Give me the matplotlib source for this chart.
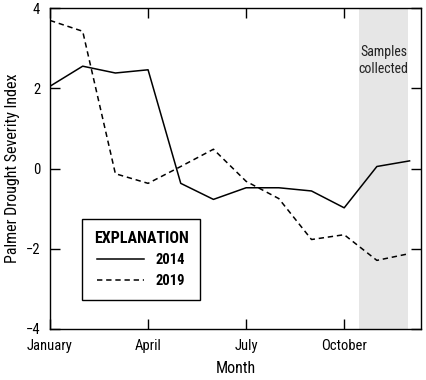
import matplotlib
matplotlib.use("Agg")
import matplotlib.pyplot as plt
from matplotlib import font_manager

months = list(range(12))
pdsi_2014 = [2.05, 2.55, 2.38, 2.46, -0.37, -0.77, -0.48, -0.48, -0.56, -0.98, 0.05, 0.19]
pdsi_2019 = [3.69, 3.42, -0.13, -0.37, 0.05, 0.48, -0.32, -0.75, -1.77, -1.65, -2.29, -2.12]
xtick_pos = [0, 3, 6, 9]
xtick_labels = ["January", "April", "July", "October"]
ytick_pos = [-4, -2, 0, 2, 4]
ytick_labels = ["\u22124", "\u22122", "0", "2", "4"]
shade_start, shade_end = 9.45, 10.95

# prefer a condensed sans family if one is installed
cands = []
for f in font_manager.fontManager.ttflist:
    st = str(f.stretch).lower()
    if ("narrow" in f.name.lower() or "condensed" in f.name.lower() or
            st in ("condensed", "semi-condensed", "extra-condensed", "600", "700", "750", "500")):
        cands.append((f.name, st))
chosen = None
for pref in ["Liberation Sans Narrow", "Roboto Condensed", "Open Sans Condensed", "DejaVu Sans Condensed", "Noto Sans Condensed"]:
    if any(c[0] == pref for c in cands):
        chosen = pref
        break
stretch = "normal"
if chosen is None:
    for name, st in cands:
        if name in ("DejaVu Sans", "Roboto", "Open Sans", "Noto Sans", "Inter"):
            chosen = name
            stretch = "condensed"
            break
if chosen is None:
    chosen = "Liberation Sans"
plt.rcParams['font.family'] = [chosen, "DejaVu Sans"]
plt.rcParams['font.stretch'] = stretch

fig = plt.figure(figsize=(4.27, 3.8), dpi=100)
ax = fig.add_axes([50/427, 51/380, 371/427, 321/380])

ax.axvspan(shade_start, shade_end, color="#e6e6e6", lw=0, zorder=0)
l1, = ax.plot(months, pdsi_2014, color="black", lw=1.1, ls="-", label="2014")
l2, = ax.plot(months, pdsi_2019, color="black", lw=1.1, ls=(0, (3.5, 2.5)), label="2019")

ax.set_xlim(0, 11.35)
ax.set_ylim(-4, 4)
ax.set_xticks(xtick_pos)
ax.set_xticklabels(xtick_labels, fontsize=10.5)
ax.set_yticks(ytick_pos)
ax.set_yticklabels(ytick_labels, fontsize=10.5)
ax.tick_params(axis="x", direction="in", length=7, width=1, top=True, pad=7)
ax.tick_params(axis="y", direction="in", length=7, width=1, right=True, pad=7)
for s in ax.spines.values():
    s.set_linewidth(1)

ax.set_xlabel("Month", fontsize=11.5, labelpad=6)
ax.set_ylabel("Palmer Drought Severity Index", fontsize=11.5, labelpad=4)

ax.text((shade_start + shade_end) / 2, 2.69, "Samples\ncollected", ha="center", va="center",
        fontsize=10, color="#222222", linespacing=1.2)

leg = ax.legend(handles=[l1, l2], title="EXPLANATION", loc="upper left",
                bbox_to_anchor=(32/371, (329-219)/321), fancybox=False, framealpha=1,
                edgecolor="black", fontsize=10.5, title_fontsize=11.5, handlelength=3.2,
                borderpad=0.8, labelspacing=0.5, handletextpad=0.8, borderaxespad=0)
leg.get_title().set_fontweight("bold")
leg.get_frame().set_linewidth(1)
for t in leg.get_texts():
    t.set_fontweight("bold")

fig.savefig("out.png", dpi=100)
